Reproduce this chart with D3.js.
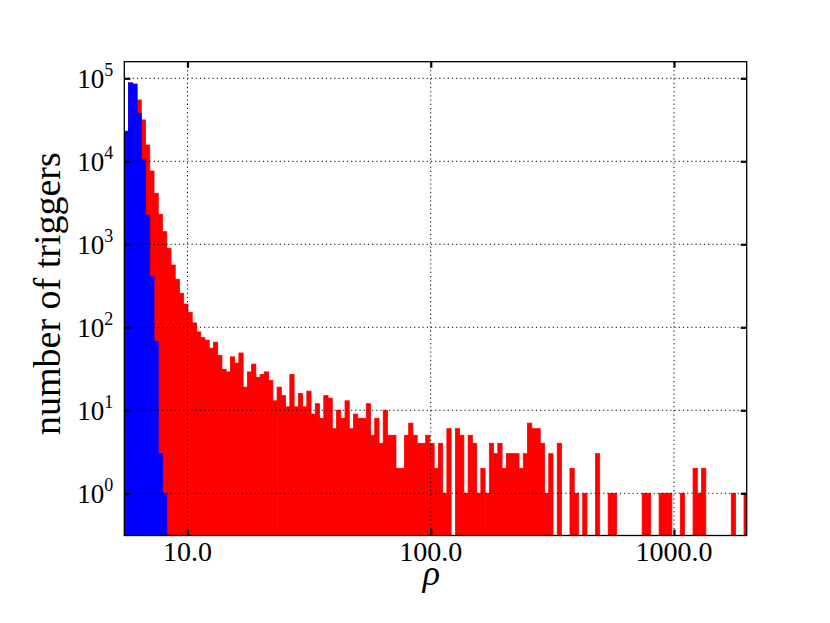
<!DOCTYPE html>
<html><head><meta charset="utf-8">
<script src="https://cdn.jsdelivr.net/npm/d3@7"></script>
<style>body{margin:0;background:#fff} svg{display:block}</style>
</head><body>
<svg id="chart" width="830" height="623"></svg>
<script>
// ---- data ----
const binStart = 5.5;          // first bin edge (rho)
const binLogWidth = 0.017448;  // bin width in log10(rho)
const redCounts = [
  23000, 88000, 85000, 54800, 31500, 15700, 7640, 4110, 2300, 1420,
  895, 563, 379, 257, 190, 151, 113, 88, 75, 70,
  56, 66, 46, 31, 29, 44, 37, 49, 19, 29,
  36, 25, 27, 29, 23, 13, 19, 15, 11, 27,
  11, 16, 11, 17, 9, 12, 8, 15, 14, 6,
  10, 8, 13, 6, 9, 8, 8, 12, 5, 8,
  4, 10, 5, 5, 2, 2, 5, 7, 5, 4,
  4, 5, 4, 2, 4, 1, 6, 0, 6, 5,
  1, 5, 4, 1, 2, 1, 4, 3, 4, 2,
  3, 3, 3, 2, 3, 7, 6, 6, 4, 1,
  3, 0, 4, 0, 0, 2, 1, 0, 1, 0,
  0, 3, 0, 0, 1, 1, 0, 0, 0, 0,
  0, 0, 1, 1, 0, 0, 1, 1, 1, 0,
  0, 1, 0, 0, 2, 1, 2, 0, 0, 0,
  0, 0, 0, 1, 0, 0, 1
];
const blueCounts = [23000, 88000, 85000, 37900, 10400, 2250, 407, 67, 3, 1];
const xTicks = [10, 100, 1000];
const xTickLabels = ["10.0", "100.0", "1000.0"];
const yTickExponents = [0, 1, 2, 3, 4, 5];
const xDomain = [5.5, 1990];
const yDomain = [0.31, 158500];
const yLabel = "number of triggers";
const xLabel = "\u03C1";

// ---- layout ----
const W = 830, H = 623;
const plot = {x0: 124.3, x1: 746.7, y0: 61.7, y1: 535.5};
const iw = plot.x1 - plot.x0, ih = plot.y1 - plot.y0;
const font = "'Liberation Serif', 'DejaVu Serif', serif";

const svg = d3.select("#chart");
svg.append("rect").attr("width", W).attr("height", H).attr("fill", "#fff");

const x = d3.scaleLog().domain(xDomain).range([0, iw]);
const y = d3.scaleLog().domain(yDomain).range([ih, 0]);

svg.append("defs").append("clipPath").attr("id", "clip")
  .append("rect").attr("width", iw).attr("height", ih);

const g = svg.append("g").attr("transform", `translate(${plot.x0},${plot.y0})`);
const bars = g.append("g").attr("clip-path", "url(#clip)");

function binData(counts) {
  return counts.map((c, k) => ({
    lo: binStart * Math.pow(10, k * binLogWidth),
    hi: binStart * Math.pow(10, (k + 1) * binLogWidth),
    c
  })).filter(d => d.c > 0);
}

function drawHist(counts, color) {
  bars.append("g").selectAll("rect").data(binData(counts)).join("rect")
    .attr("x", d => x(d.lo))
    .attr("width", d => x(d.hi) - x(d.lo))
    .attr("y", d => y(d.c))
    .attr("height", d => ih - y(d.c))
    .attr("fill", color)
    .attr("stroke", color)
    .attr("stroke-width", 0.8);
}
drawHist(redCounts, "#ff0000");
drawHist(blueCounts, "#0000ff");

// grid (on top of bars)
const grid = g.append("g").attr("stroke", "#000").attr("stroke-width", 1)
  .attr("stroke-dasharray", "1.2,3");
xTicks.forEach(v => grid.append("line")
  .attr("x1", x(v)).attr("x2", x(v)).attr("y1", 0).attr("y2", ih));
yTickExponents.forEach(e => grid.append("line")
  .attr("y1", y(Math.pow(10, e))).attr("y2", y(Math.pow(10, e))).attr("x1", 0).attr("x2", iw));

// axes via d3 (ticks inward, on all sides)
const tl = 6;
const xAxisB = d3.axisBottom(x).tickValues(xTicks).tickSizeInner(-tl).tickSizeOuter(0).tickFormat("");
const xAxisT = d3.axisTop(x).tickValues(xTicks).tickSizeInner(-tl).tickSizeOuter(0).tickFormat("");
const yTickVals = yTickExponents.map(e => Math.pow(10, e));
const yAxisL = d3.axisLeft(y).tickValues(yTickVals).tickSizeInner(-tl).tickSizeOuter(0).tickFormat("");
const yAxisR = d3.axisRight(y).tickValues(yTickVals).tickSizeInner(-tl).tickSizeOuter(0).tickFormat("");
function styleAxis(sel) {
  sel.select(".domain").remove();
  sel.selectAll(".tick line").attr("stroke", "#000").attr("stroke-width", 2.2);
}
g.append("g").attr("transform", `translate(0,${ih})`).call(xAxisB).call(styleAxis);
g.append("g").call(xAxisT).call(styleAxis);
g.append("g").call(yAxisL).call(styleAxis);
g.append("g").attr("transform", `translate(${iw},0)`).call(yAxisR).call(styleAxis);

// frame
g.append("rect").attr("width", iw).attr("height", ih)
  .attr("fill", "none").attr("stroke", "#000").attr("stroke-width", 1.3);

// x tick labels
xTicks.forEach((v, i) => {
  g.append("text").attr("x", x(v)).attr("y", ih + 26)
    .attr("text-anchor", "middle").attr("font-family", font).attr("font-size", 28)
    .attr("fill", "#000").text(xTickLabels[i]);
});

// y tick labels 10^e
yTickExponents.forEach(e => {
  const t = g.append("text").attr("x", -11).attr("y", y(Math.pow(10, e)) + 10)
    .attr("text-anchor", "end").attr("font-family", font).attr("font-size", 27).attr("fill", "#000");
  t.append("tspan").text("10");
  t.append("tspan").attr("dy", -12).attr("font-size", 18).text(String(e));
});

// axis labels
svg.append("text").attr("x", plot.x0 + iw / 2 - 4).attr("y", 585)
  .attr("text-anchor", "middle").attr("font-family", font).attr("font-style", "italic")
  .attr("font-size", 36).attr("fill", "#000").text(xLabel);
svg.append("text").attr("transform", `translate(60,${(plot.y0 + plot.y1) / 2 - 5}) rotate(-90)`)
  .attr("text-anchor", "middle").attr("font-family", font).attr("font-size", 38)
  .attr("fill", "#000").text(yLabel);
</script>
</body></html>
